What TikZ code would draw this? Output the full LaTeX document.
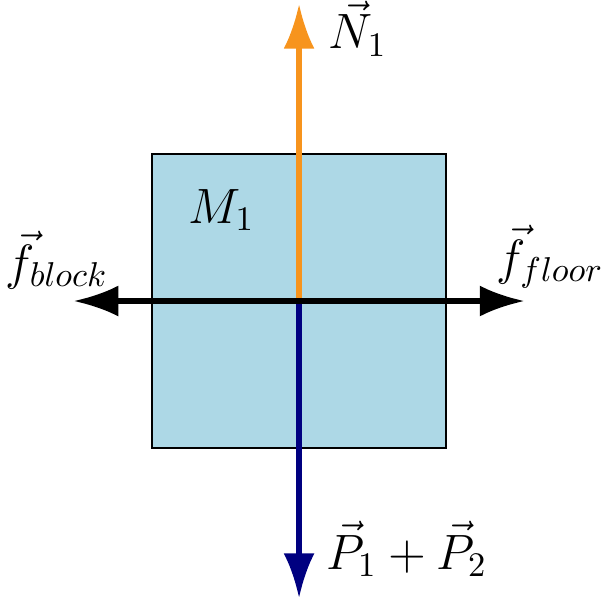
\documentclass[tikz,border=0pt]{standalone}
\usetikzlibrary{arrows.meta}
\tikzset{force/.style={line width=1.5pt,-{Latex[length=13pt,width=9pt]}}}
\begin{document}
\begin{tikzpicture}
\useasboundingbox (-3.05,-3.05) rectangle (3.12,3.07);
\coordinate (O) at (0,0);
\coordinate (N) at (0,3.03);
\coordinate (P) at (0,-3.03);
\coordinate (L) at (-2.3,0);
\coordinate (R) at (2.3,0);
\draw[fill={rgb,255:red,173;green,216;blue,230}] (-1.5,-1.5) rectangle (1.5,1.5);
\node (m) at (-0.79,0.93) {\Large $M_1$};
\draw[force,color={rgb,255:red,247;green,148;blue,29}] (O)--(N);
\draw[force,color={rgb,255:red,0;green,0;blue,128}] (O)--(P);
\draw[force] (O)--(L);
\draw[force] (O)--(R);
\node (n) at (0.6,2.78) {\Large $\vec{N}_1$};
\node (p) at (1.1,-2.53) {\Large $\vec{P}_1+\vec{P}_2$};
\node (fb) at (-2.47,0.42) {\Large $\vec{f}_{block}$};
\node (ff) at (2.56,0.45) {\Large $\vec{f}_{floor}$};
\end{tikzpicture}
\end{document}
